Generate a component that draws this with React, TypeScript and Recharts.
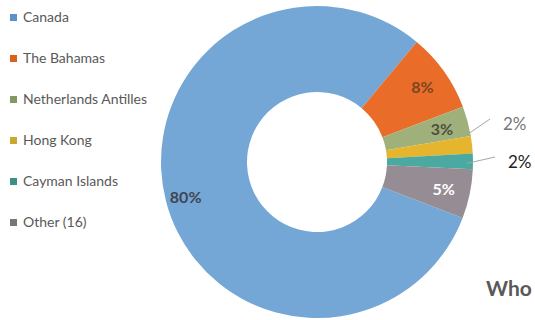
import React from "react";
import { PieChart, Pie, Cell } from "recharts";

const countries = [
  "Canada",
  "The Bahamas",
  "Netherlands Antilles",
  "Hong Kong",
  "Cayman Islands",
  "Other (16)",
];
const shares = [80.2, 8.2, 3.1, 1.8, 1.6, 5.1];
const sliceColors = ["#75a7d6", "#e96d28", "#a0b07b", "#e6b52e", "#4aa9a0", "#958d93"];
const legendColors = ["#5b90c8", "#d9601f", "#849866", "#c9a830", "#3f9084", "#777777"];
const labelColors = ["#3f4552", "#7d4426", "#4d5040", "#777777", "#222222", "#ffffff"];

const data = countries.map((name, i) => ({ name, value: shares[i] }));

const RAD = Math.PI / 180;
const FONT = "Lato, 'Open Sans', sans-serif";

function SliceLabel(props: any) {
  const { cx, cy, midAngle, outerRadius, percent, index } = props;
  const text = `${Math.round(percent * 100)}%`;
  const cos = Math.cos(-midAngle * RAD);
  const sin = Math.sin(-midAngle * RAD);

  // small slices get a leader line and sit outside the ring
  if (index === 3 || index === 4) {
    const sx = cx + (outerRadius - 6) * cos;
    const sy = cy + (outerRadius - 6) * sin + (index === 3 ? -10 : 2);
    const ex = cx + outerRadius + (index === 3 ? 17 : 22);
    const ey = cy + (index === 3 ? -43 : -5);
    return (
      <g>
        <path d={`M${sx},${sy}L${ex},${ey}`} stroke="#a6a6a6" strokeWidth={1} fill="none" />
        <text
          x={ex + 13}
          y={ey + 4}
          dominantBaseline="central"
          fill={labelColors[index]}
          fontSize={17}
          fontFamily={FONT}
        >
          {text}
        </text>
      </g>
    );
  }

  const r = outerRadius * (index === 0 ? 0.87 : 0.83);
  return (
    <text
      x={cx + r * cos}
      y={cy + r * sin}
      textAnchor="middle"
      dominantBaseline="central"
      fill={labelColors[index]}
      fontSize={16}
      fontWeight={700}
      fontFamily={FONT}
    >
      {text}
    </text>
  );
}

function LegendList() {
  return (
    <ul
      style={{
        position: "absolute",
        top: -4,
        left: 10,
        listStyle: "none",
        margin: 0,
        padding: 0,
        fontFamily: FONT,
      }}
    >
      {countries.map((name, i) => (
        <li
          key={name}
          style={{
            height: 41,
            lineHeight: "41px",
            fontSize: 14,
            color: "#595959",
            whiteSpace: "nowrap",
          }}
        >
          <span
            style={{
              display: "inline-block",
              width: 7,
              height: 7,
              marginRight: 6,
              background: legendColors[i],
              verticalAlign: "middle",
              position: "relative",
              top: -1,
            }}
          />
          {name}
        </li>
      ))}
    </ul>
  );
}

export default function App() {
  return (
    <div
      style={{
        position: "absolute",
        top: 0,
        left: 0,
        width: 535,
        height: 320,
        background: "#ffffff",
        overflow: "hidden",
      }}
    >
      <PieChart width={535} height={320} margin={{ top: 0, right: 0, bottom: 0, left: 0 }}>
        <Pie
          data={data}
          dataKey="value"
          nameKey="name"
          cx={317}
          cy={162}
          innerRadius={70}
          outerRadius={156}
          startAngle={-21}
          endAngle={-381}
          stroke="none"
          label={SliceLabel}
          labelLine={false}
          isAnimationActive={false}
        >
          {data.map((d, i) => (
            <Cell key={d.name} fill={sliceColors[i]} />
          ))}
        </Pie>
      </PieChart>
      <LegendList />
      <div
        style={{
          position: "absolute",
          left: 486,
          top: 275,
          fontFamily: FONT,
          fontWeight: 700,
          fontSize: 21,
          color: "#595959",
          whiteSpace: "nowrap",
        }}
      >
        Who
      </div>
    </div>
  );
}
